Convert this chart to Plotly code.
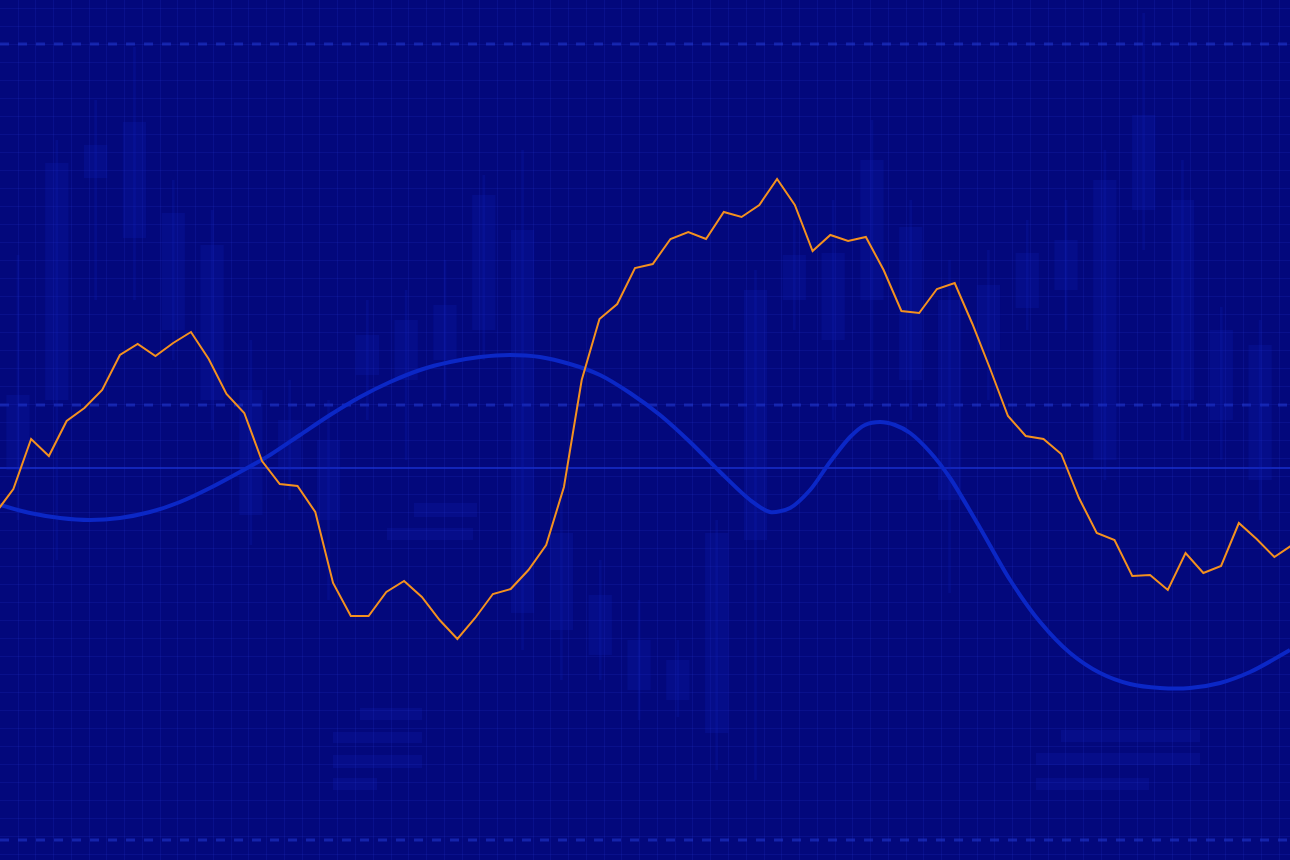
import plotly.graph_objects as go

# ---------------- data ----------------
# orange price line: one reading per step
price_idx = list(range(74))
price_val = [347, 371, 421, 404, 439, 452, 470, 505, 516, 504,
             517, 528, 501, 466, 447, 399, 376, 374, 348, 277,
             244, 244, 268, 279, 263, 240, 221, 242, 266, 271,
             290, 315, 373, 480, 541, 556, 592, 596, 621, 628,
             621, 648, 643, 655, 681, 655, 609, 625, 619, 623,
             590, 549, 547, 571, 577, 536, 491, 444, 424, 421,
             406, 362, 327, 320, 284, 285, 270, 307, 287, 294,
             337, 321, 303, 315]

# smooth blue curve (same step units as the price line)
wave_idx = [0.25, 1.94, 3.63, 5.32, 7.00, 8.69, 10.38, 12.07, 13.76, 15.45,
            17.14, 18.83, 20.52, 22.21, 23.90, 25.59, 27.27, 28.96, 30.65, 32.34,
            34.03, 35.72, 37.41, 39.10, 40.79, 42.48, 43.60, 44.73, 45.86, 46.98,
            48.11, 48.95, 49.80, 50.64, 51.49, 52.61, 53.74, 55.43, 57.12, 58.81,
            60.50, 62.19, 63.87, 65.56, 67.25, 68.94, 70.63, 72.88]
wave_val = [355, 347, 342, 340, 342, 348, 358, 372, 388, 405,
            425, 445, 463, 478, 490, 498, 503, 505, 503, 496,
            485, 467, 445, 418, 388, 360, 348, 352, 370, 398,
            423, 435, 438, 435, 427, 408, 382, 332, 280, 238,
            207, 187, 176, 172, 172, 177, 188, 210]

# faint background candles
candle_no = list(range(33))
c_open  = [465, 460, 682, 738, 647, 615, 470, 440, 420, 525, 540, 555, 665, 630, 327, 265, 220, 200, 327, 570, 605, 607, 700, 633, 560, 575, 607, 620, 680, 745, 660, 530, 515]
c_close = [390, 697, 715, 622, 530, 460, 345, 390, 340, 485, 480, 500, 530, 247, 230, 205, 170, 160, 127, 320, 560, 520, 560, 480, 360, 510, 552, 570, 400, 650, 460, 440, 380]
c_high  = [605, 720, 760, 813, 680, 650, 520, 480, 460, 560, 570, 600, 685, 710, 380, 300, 260, 220, 340, 590, 640, 660, 740, 660, 600, 610, 640, 660, 710, 847, 700, 553, 540]
c_low   = [340, 300, 560, 560, 500, 430, 315, 360, 260, 440, 400, 460, 500, 210, 180, 180, 140, 143, 90, 80, 530, 440, 460, 440, 267, 460, 530, 530, 380, 610, 420, 400, 340]

# ---------------- styling ----------------
BG = "#03087C"
GRID = "rgba(40,60,215,0.17)"
CANDLE = "rgba(14,34,190,0.20)"
WAVE = "#0B27C6"
ORANGE = "#F4911F"

body_base = [min(o, c) for o, c in zip(c_open, c_close)]
body_len = [abs(o - c) for o, c in zip(c_open, c_close)]
wick_len = [h - l for h, l in zip(c_high, c_low)]

fig = go.Figure()

# candle wicks and bodies (primary x axis, one slot per candle)
fig.add_trace(go.Bar(x=candle_no, y=wick_len, base=c_low, width=0.07,
                     marker=dict(color=CANDLE, line=dict(width=0)),
                     xaxis="x", yaxis="y", hoverinfo="skip", showlegend=False))
fig.add_trace(go.Bar(x=candle_no, y=body_len, base=body_base, width=0.6,
                     marker=dict(color=CANDLE, line=dict(width=0)),
                     xaxis="x", yaxis="y", hoverinfo="skip", showlegend=False))

# blue smooth wave (overlay axis, drawn above candles)
fig.add_trace(go.Scatter(x=wave_idx, y=wave_val, mode="lines",
                         line=dict(color=WAVE, width=4, shape="spline", smoothing=0.8),
                         xaxis="x2", yaxis="y", hoverinfo="skip", showlegend=False))

# orange line
fig.add_trace(go.Scatter(x=price_idx, y=price_val, mode="lines",
                         line=dict(color=ORANGE, width=2),
                         xaxis="x2", yaxis="y", hoverinfo="skip", showlegend=False))

shapes = []
# dashed reference lines
for yv in (816, 455, 20):
    shapes.append(dict(type="line", xref="paper", yref="y", x0=0, x1=1, y0=yv, y1=yv,
                       line=dict(color="rgba(45,75,235,0.42)", width=3, dash="dash"),
                       layer="below"))
# solid baseline
shapes.append(dict(type="line", xref="paper", yref="y", x0=0, x1=1, y0=392, y1=392,
                   line=dict(color="rgba(35,65,240,0.7)", width=1.5), layer="below"))

# blurred placeholder text blocks (x in paper fraction, y in axis units)
blocks = [
    (414, 477, 503, 517), (387, 473, 528, 540),
    (360, 422, 708, 720), (333, 422, 732, 743), (333, 422, 755, 768), (333, 377, 778, 790),
    (1061, 1200, 730, 742), (1036, 1200, 753, 765), (1036, 1149, 778, 790),
]
for x0, x1, y0, y1 in blocks:
    shapes.append(dict(type="rect", xref="paper", yref="y",
                       x0=x0 / 1290, x1=x1 / 1290, y0=860 - y1, y1=860 - y0,
                       fillcolor="rgba(20,40,200,0.18)", line=dict(width=0), layer="below"))

fig.update_layout(
    width=1290, height=860,
    margin=dict(l=0, r=0, t=0, b=0, pad=0),
    paper_bgcolor=BG, plot_bgcolor=BG,
    showlegend=False, hovermode=False, barmode="overlay",
    shapes=shapes,
    xaxis=dict(range=[-0.464, 32.77], showgrid=True, gridcolor=GRID, gridwidth=1,
               tick0=0.0, dtick=0.4576, showticklabels=False, zeroline=False,
               showline=False, ticks=""),
    xaxis2=dict(range=[0.248, 72.88], overlaying="x", showgrid=False,
                showticklabels=False, zeroline=False, showline=False, ticks=""),
    yaxis=dict(range=[0, 860], showgrid=True, gridcolor=GRID, gridwidth=1,
               tick0=816, dtick=18, showticklabels=False, zeroline=False,
               showline=False, ticks=""),
)

fig.write_html("out.html", config={"displayModeBar": False, "staticPlot": True},
               post_script="document.body.style.margin='0';document.body.style.background='#03087C';document.body.style.overflow='hidden';")
